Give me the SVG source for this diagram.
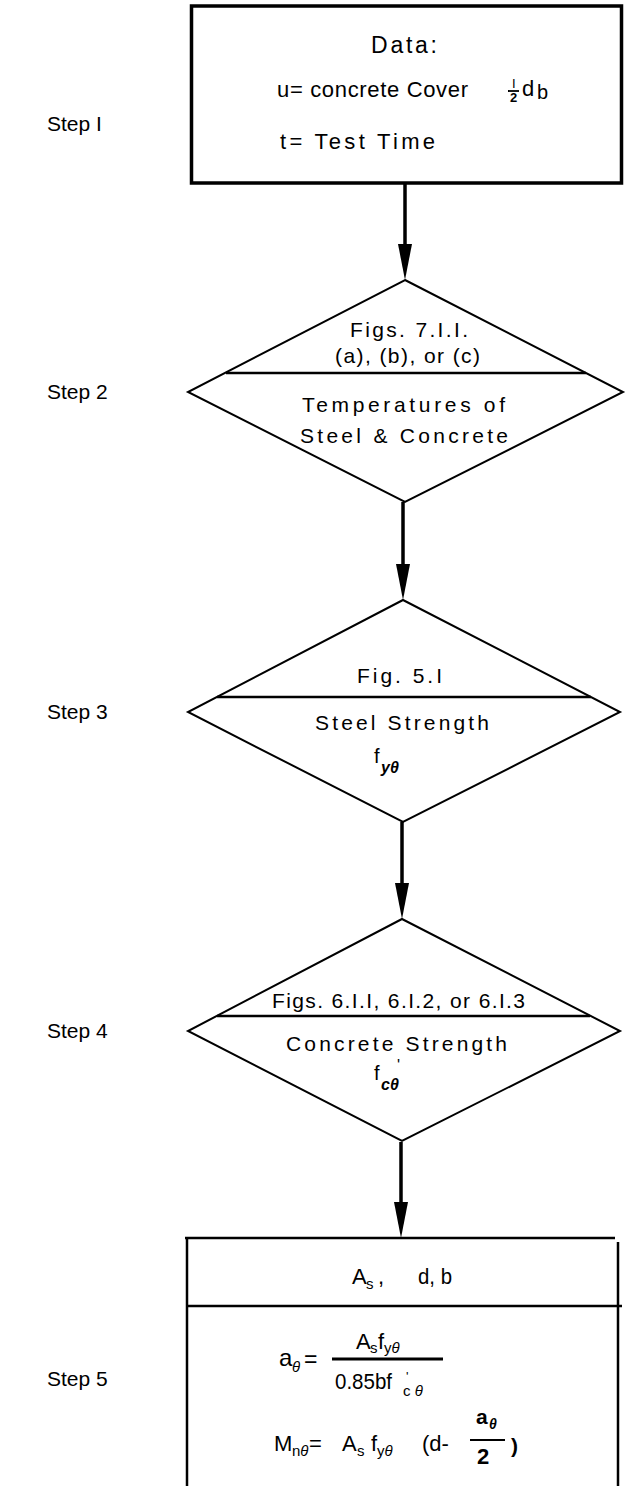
<svg xmlns="http://www.w3.org/2000/svg" width="629" height="1486" viewBox="0 0 629 1486">
<style>
  .bg{fill:#fff}
  .t{font-family:"Liberation Sans",Arial,sans-serif;fill:#000}
  .lt{font-family:"Liberation Sans",Arial,sans-serif;fill:#000}
  .dia{fill:none;stroke:#000;stroke-width:2}
  .sep{stroke:#000;stroke-width:2.5}
  .conn{stroke:#000;stroke-width:3.5;fill:none;marker-end:url(#ah)}
  .box{fill:none;stroke:#000;stroke-width:3.5}
  .ln{stroke:#000;stroke-width:2.5}
</style>
<defs>
  <marker id="ah" viewBox="0 0 36 14" refX="11" refY="7" markerWidth="36" markerHeight="14" markerUnits="userSpaceOnUse" orient="auto">
    <path d="M0,0 L36,7 L0,14 Z" fill="#000"/>
  </marker>
</defs>
<rect class="bg" x="0" y="0" width="629" height="1486"/>

<g id="step-labels" class="t" font-size="21">
  <text x="47" y="131">Step I</text>
  <text x="47" y="399">Step 2</text>
  <text x="47" y="719">Step 3</text>
  <text x="47" y="1038">Step 4</text>
  <text x="47" y="1386">Step 5</text>
</g>

<g id="connectors">
  <path class="conn" d="M405,183 V255"/>
  <path class="conn" d="M403,502 V575"/>
  <path class="conn" d="M402,822 V894"/>
  <path class="conn" d="M401,1142 V1213"/>
</g>

<g id="node-data">
  <rect class="box" x="191.5" y="6" width="430" height="177"/>
  <text class="t" x="404" y="53" font-size="23" text-anchor="middle" textLength="66" lengthAdjust="spacing">Data:</text>
  <text class="t" x="277" y="97" font-size="22" textLength="191" lengthAdjust="spacing">u= concrete Cover</text>
  <text class="t" x="512" y="88" font-size="13">I</text>
  <line x1="508" y1="91" x2="519" y2="91" stroke="#000" stroke-width="1.8"/>
  <text class="t" x="513.5" y="102" font-size="13" font-weight="bold" text-anchor="middle">2</text>
  <text class="t" x="522" y="96" font-size="22">d</text>
  <text class="t" x="537" y="99" font-size="20">b</text>
  <text class="t" x="280" y="149" font-size="22" textLength="155" lengthAdjust="spacing">t= Test  Time</text>
</g>

<g id="node-temperatures">
  <polygon class="dia" points="405,280 623,392 405,502 188,392"/>
  <line class="sep" x1="226" y1="373" x2="586" y2="373"/>
  <text class="lt" x="350" y="337" font-size="21" textLength="118" lengthAdjust="spacing">Figs. 7.I.I.</text>
  <text class="lt" x="335" y="363" font-size="21" textLength="145" lengthAdjust="spacing">(a), (b), or (c)</text>
  <text class="lt" x="302" y="412" font-size="21" textLength="203" lengthAdjust="spacing">Temperatures  of</text>
  <text class="lt" x="300" y="443" font-size="21" textLength="208" lengthAdjust="spacing">Steel &amp;  Concrete</text>
</g>

<g id="node-steel">
  <polygon class="dia" points="403,600 620,712 403,822 188,712"/>
  <line class="sep" x1="217" y1="697" x2="591" y2="697"/>
  <text class="lt" x="357" y="683" font-size="21" textLength="85" lengthAdjust="spacing">Fig. 5.I</text>
  <text class="lt" x="315" y="730" font-size="21" textLength="174" lengthAdjust="spacing">Steel Strength</text>
  <text class="lt" x="374" y="763" font-size="20">f</text>
  <text class="lt" x="381" y="773" font-size="16" font-weight="bold" font-style="italic">yθ</text>
</g>

<g id="node-concrete">
  <polygon class="dia" points="402,919 620,1031 402,1141 188,1031"/>
  <line class="sep" x1="217" y1="1016" x2="590" y2="1016"/>
  <text class="lt" x="272" y="1008" font-size="21" textLength="253" lengthAdjust="spacing">Figs. 6.I.I, 6.I.2, or 6.I.3</text>
  <text class="lt" x="286" y="1051" font-size="21" textLength="221" lengthAdjust="spacing">Concrete Strength</text>
  <text class="lt" x="374" y="1080" font-size="20">f</text>
  <text class="lt" x="397" y="1071" font-size="16">'</text>
  <text class="lt" x="381" y="1090" font-size="16" font-weight="bold" font-style="italic">cθ</text>
</g>

<g id="node-moment">
  <line class="ln" x1="185" y1="1238" x2="615" y2="1238" stroke-width="3"/>
  <line class="ln" x1="187" y1="1238" x2="187" y2="1486"/>
  <line class="ln" x1="618" y1="1242" x2="618" y2="1486"/>
  <line class="ln" x1="187" y1="1306" x2="622" y2="1306"/>
  <text class="t" x="352" y="1284" font-size="22">A</text>
  <text class="t" x="366" y="1289" font-size="15">s</text>
  <text class="t" x="378" y="1284" font-size="22">,</text>
  <text class="t" x="418" y="1284" font-size="22" textLength="34" lengthAdjust="spacingAndGlyphs">d, b</text>

  <text class="t" x="279" y="1366" font-size="24">a</text>
  <text class="t" x="292" y="1372" font-size="15" font-style="italic">θ</text>
  <text class="t" x="304" y="1367" font-size="23">=</text>
  <line x1="332" y1="1359" x2="443" y2="1359" stroke="#000" stroke-width="3"/>
  <text class="t" x="356" y="1349" font-size="22">A</text>
  <text class="t" x="370" y="1353" font-size="15">s</text>
  <text class="t" x="378" y="1349" font-size="22">f</text>
  <text class="t" x="384" y="1353" font-size="15">y<tspan font-style="italic">θ</tspan></text>
  <text class="t" x="335" y="1389" font-size="22" textLength="57" lengthAdjust="spacingAndGlyphs">0.85bf</text>
  <text class="t" x="406" y="1381" font-size="13">'</text>
  <text class="t" x="403" y="1396" font-size="15">c <tspan font-style="italic">θ</tspan></text>

  <text class="t" x="274" y="1451" font-size="22">M</text>
  <text class="t" x="292" y="1456" font-size="15">n<tspan font-style="italic">θ</tspan></text>
  <text class="t" x="309" y="1451" font-size="22">=</text>
  <text class="t" x="342" y="1451" font-size="22">A</text>
  <text class="t" x="357" y="1456" font-size="15">s</text>
  <text class="t" x="371" y="1451" font-size="22">f</text>
  <text class="t" x="377" y="1456" font-size="15">y<tspan font-style="italic">θ</tspan></text>
  <text class="t" x="422" y="1451" font-size="22">(d-</text>
  <text class="lt" x="476" y="1424" font-size="21" font-weight="bold">a</text>
  <text class="lt" x="489" y="1429" font-size="14" font-weight="bold" font-style="italic">θ</text>
  <line x1="470" y1="1440" x2="505" y2="1440" stroke="#000" stroke-width="2"/>
  <text class="lt" x="477" y="1464" font-size="22" font-weight="bold">2</text>
  <text class="lt" x="511" y="1453" font-size="21" font-weight="bold">)</text>
</g>
</svg>
